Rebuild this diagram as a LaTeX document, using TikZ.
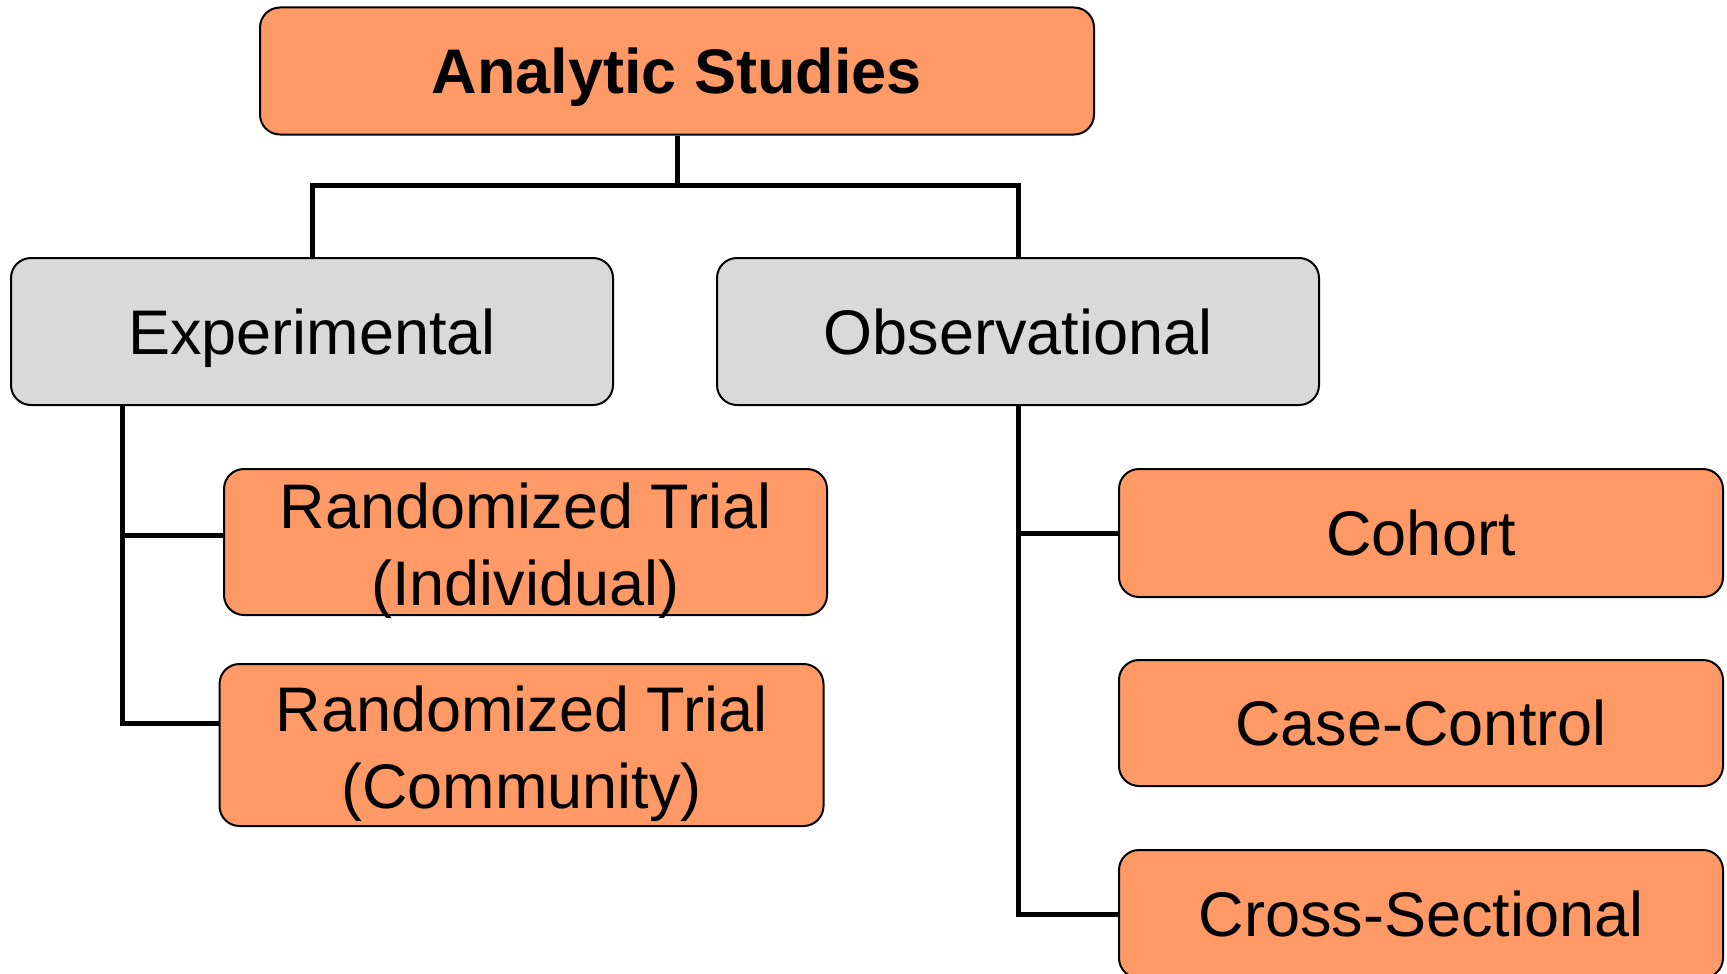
\documentclass[tikz,border=0pt]{standalone}
\usepackage{fontspec}
\setmainfont{Liberation Sans}
\usetikzlibrary{calc}
\definecolor{boxorange}{HTML}{FF9966}
\definecolor{boxgray}{HTML}{D9D9D9}
\begin{document}
\begin{tikzpicture}[x=1pt,y=-1pt,
  box/.style={draw=black, line width=2pt, rounded corners=20pt, inner sep=0pt,
    font=\fontsize{63}{77}\selectfont, align=center, text height=45pt, text depth=0pt},
  orangebox/.style={box, fill=boxorange},
  graybox/.style={box, fill=boxgray},
  conn/.style={draw=black, line width=5pt}]
\useasboundingbox (0,0) rectangle (1727,974);
\node[orangebox, minimum width=834pt, minimum height=127pt, font=\fontsize{63}{77}\selectfont\bfseries] (as) at (677,71) {Analytic Studies};
\node[graybox, minimum width=602pt, minimum height=147pt] (exp) at (312,331.5) {Experimental};
\node[graybox, minimum width=602pt, minimum height=147pt] (obs) at (1018,331.5) {Observational};
\node[orangebox, minimum width=603pt, minimum height=146pt, text height=127pt] (ind) at (525.5,542) {Randomized Trial\\(Individual)};
\node[orangebox, minimum width=604pt, minimum height=162pt, text height=127pt] (com) at (521.5,745) {Randomized Trial\\(Community)};
\node[orangebox, minimum width=604pt, minimum height=128pt] (coh) at (1421,533) {Cohort};
\node[orangebox, minimum width=604pt, minimum height=126pt] (cc) at (1421,723) {Case-Control};
\node[orangebox, minimum width=604pt, minimum height=128pt] (cs) at (1421,914) {Cross-Sectional};
\coordinate (split) at (677,185);
\coordinate (ev) at (122,405);
\coordinate (ov) at (1018,405);
\draw[conn] (as.south) -- (split);
\draw[conn] (exp.north) |- (split) -| (obs.north);
\draw[conn] (ev) |- ($(com.west)+(0,-22)$);
\draw[conn] (ev |- ind.west) ++(0,-7) coordinate (ib) -- (ib -| ind.west);
\draw[conn] (ov) |- (cs.west);
\draw[conn] (ov |- coh.west) -- (coh.west);
\end{tikzpicture}
\end{document}
